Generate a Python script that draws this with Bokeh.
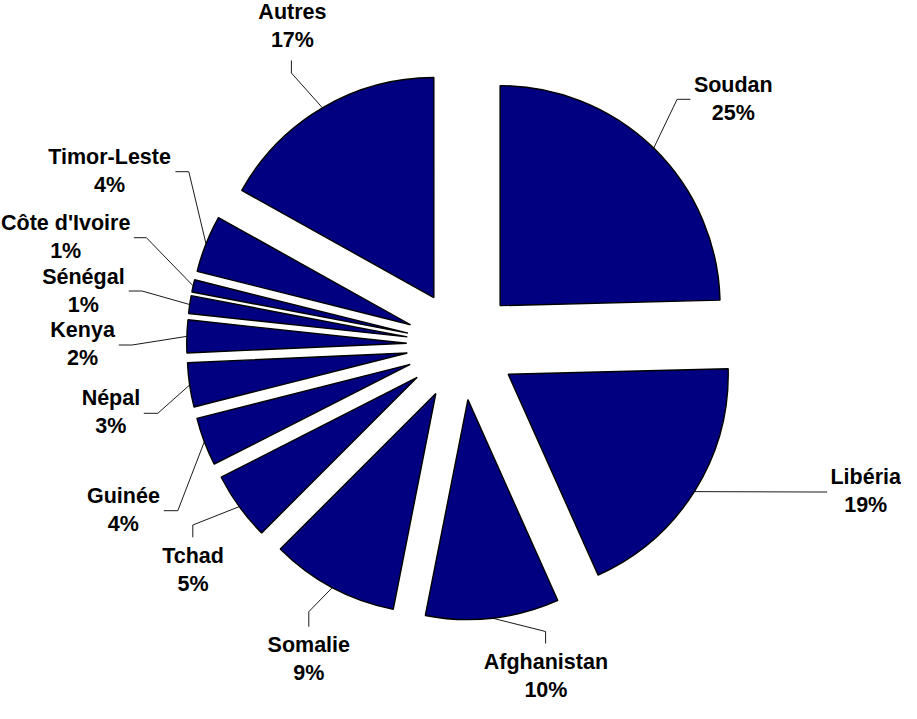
import math
from bokeh.plotting import figure
from bokeh.models import Range1d, ColumnDataSource
from bokeh.core.properties import value
from bokeh.embed import file_html
from bokeh.resources import INLINE

# ---------------- data ----------------
countries = ["Soudan", "Libéria", "Afghanistan", "Somalie", "Tchad", "Guinée",
             "Népal", "Kenya", "Sénégal", "Côte d'Ivoire", "Timor-Leste", "Autres"]
shares = [24.6, 18.7, 9.8, 9.4, 5.0, 3.55, 3.25, 2.4, 1.3, 0.9, 4.2, 16.9]

# ---------------- layout (reference pixel coordinates, y downward) ----------------
PIE_CX, PIE_CY = 474.6, 360.0
RADIUS = 220.0
EXPLODE = 55.0
FONT_PX = 21.5
LINE_GAP = 28
TEXT_SHIFT = 8.5   # compensation for the renderer's baseline placement

label_pos = [(746.2, 108.3), (878.6, 500.0), (558.8, 685.5), (321.7, 668.3),
             (206.0, 579.0), (136.3, 519.0), (123.8, 421.7), (95.5, 353.3),
             (96.3, 300.0), (78.6, 246.7), (122.5, 180.7), (305.3, 35.5)]
leader_elbow = [(690.0, 114.3), (828.0, 507.0), (558.5, 646.5), (321.7, 626.7),
                (205.7, 540.0), (190.7, 525.7), (170.7, 428.3), (145.0, 360.0),
                (155.0, 306.0), (159.3, 252.7), (201.7, 186.7), (304.3, 88.0)]
leader_end = [(703.3, 114.3), (840.0, 507.0), (558.5, 658.5), (321.7, 641.7),
              (205.7, 552.3), (176.7, 525.7), (156.7, 428.3), (131.7, 360.0),
              (141.7, 306.0), (146.7, 252.7), (188.3, 186.7), (304.3, 75.5)]

H = 719.0


def Y(py):
    return H - py


total = float(sum(shares))
wx, wy, wstart, wend = [], [], [], []
lxs, lys = [], []
cum = 0.0
for i, v in enumerate(shares):
    t1 = cum / total * 360.0
    t2 = (cum + v) / total * 360.0
    cum += v
    b = math.radians((t1 + t2) / 2.0)
    cxs = PIE_CX + EXPLODE * math.sin(b)
    cys = PIE_CY - EXPLODE * math.cos(b)
    wx.append(cxs)
    wy.append(Y(cys))
    wstart.append(math.radians(90.0 - t2))
    wend.append(math.radians(90.0 - t1))
    ax = cxs + RADIUS * math.sin(b)
    ay = cys - RADIUS * math.cos(b)
    ex, ey = leader_elbow[i]
    nx, ny = leader_end[i]
    lxs.append([ax, ex, nx])
    lys.append([Y(ay), Y(ey), Y(ny)])

pct = [str(int(v / total * 100.0 + 0.5 + 1e-9)) + "%" for v in shares]

p = figure(width=901, height=703, output_backend="svg", toolbar_location=None,
           x_range=Range1d(13.4, 914.4), y_range=Range1d(0.5, 703.5),
           x_axis_location=None, y_axis_location=None, min_border=0)
p.grid.visible = False
p.outline_line_color = None
p.background_fill_color = "white"
p.border_fill_color = "white"

src = ColumnDataSource(dict(x=wx, y=wy, start=wstart, end=wend, name=countries))
p.wedge(x="x", y="y", radius=RADIUS, start_angle="start", end_angle="end",
        direction="anticlock", fill_color="#000080", line_color="black",
        line_width=1.4, source=src)

p.multi_line(xs=lxs, ys=lys, line_color="black", line_width=0.9)

tx = [lp[0] for lp in label_pos]
ty1 = [Y(lp[1] - TEXT_SHIFT) for lp in label_pos]
ty2 = [Y(lp[1] + LINE_GAP - TEXT_SHIFT) for lp in label_pos]

p.text(x=tx, y=ty1, text=countries, text_font=value("Liberation Sans"),
       text_font_style="bold", text_font_size=f"{FONT_PX}px", text_color="black",
       text_align="center", text_baseline="alphabetic")
p.text(x=tx, y=ty2, text=pct, text_font=value("Liberation Sans"),
       text_font_style="bold", text_font_size=f"{FONT_PX}px", text_color="black",
       text_align="center", text_baseline="alphabetic")

open("out.html", "w").write(file_html(p, INLINE))
